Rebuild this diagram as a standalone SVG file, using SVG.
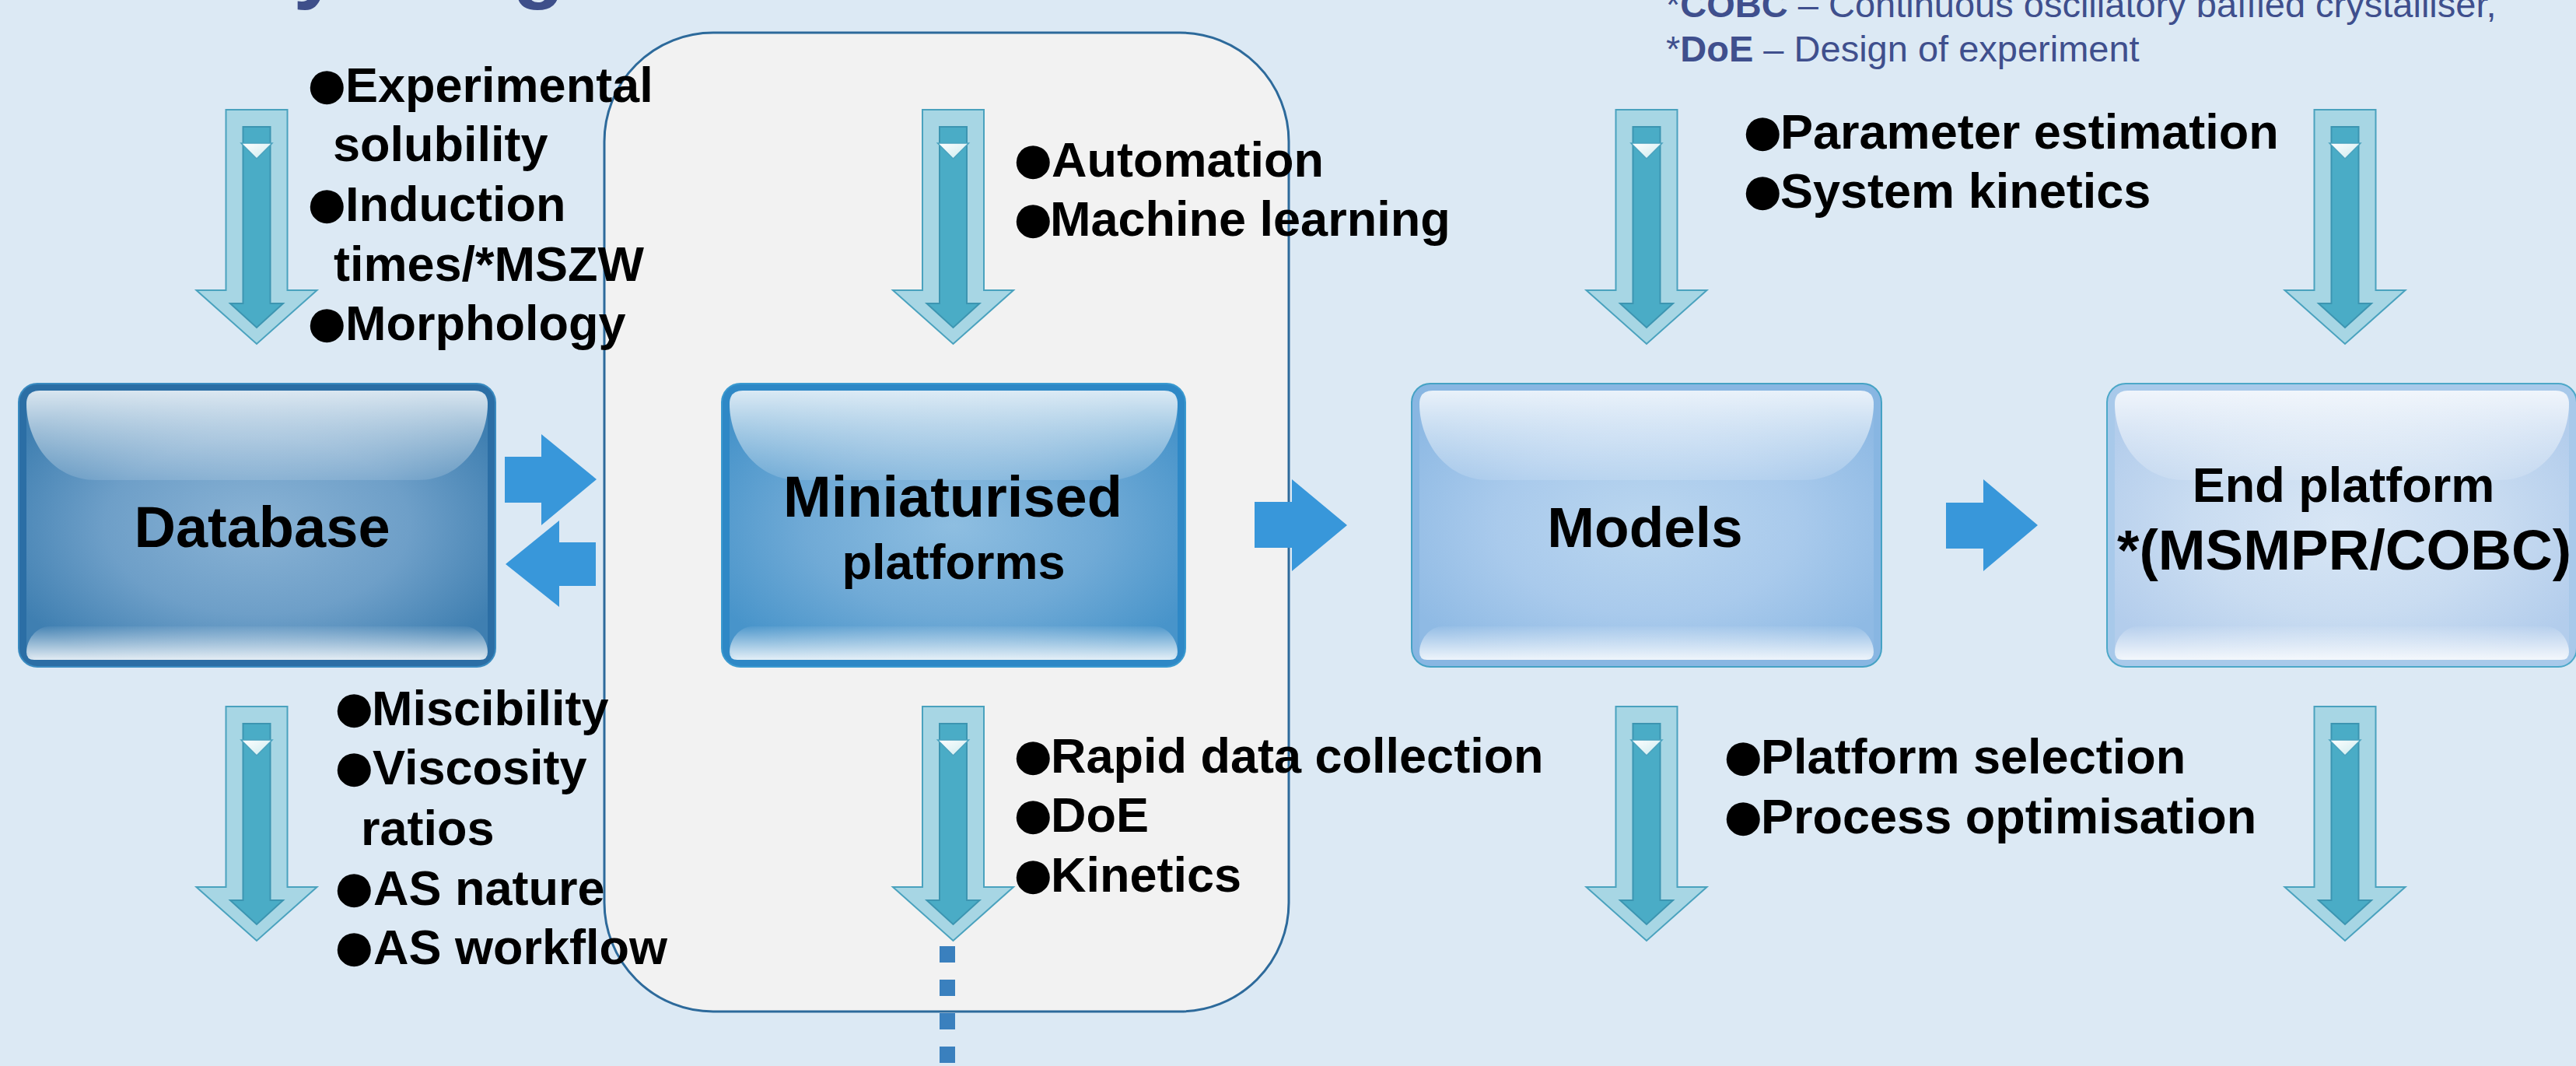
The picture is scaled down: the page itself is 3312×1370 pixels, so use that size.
<svg xmlns="http://www.w3.org/2000/svg" xmlns:xlink="http://www.w3.org/1999/xlink" width="3312" height="1370" viewBox="0 0 3312 1370">
<defs>
<style>
.lbl{font-family:"Liberation Sans",Arial,sans-serif;font-weight:bold;font-size:63px;fill:#000}
.b{font-size:100px}
.ttl{font-family:"Liberation Sans",Arial,sans-serif;font-weight:bold;fill:#000;text-anchor:middle}
.leg{font-family:"Liberation Sans",Arial,sans-serif;font-size:47px;fill:#3F4F8D}
.blk{fill:#3897DA}
</style>
<linearGradient id="glossTop" x1="0" y1="0" x2="0" y2="1">
<stop offset="0" stop-color="#fff" stop-opacity="0.8"/>
<stop offset="1" stop-color="#fff" stop-opacity="0.12"/>
</linearGradient>
<linearGradient id="glossBot" x1="0" y1="0" x2="0" y2="1">
<stop offset="0" stop-color="#fff" stop-opacity="0.05"/>
<stop offset="1" stop-color="#fff" stop-opacity="0.85"/>
</linearGradient>
<radialGradient id="fDb" cx="0.5" cy="0.5" r="0.6">
<stop offset="0" stop-color="#8AB3D5"/>
<stop offset="0.55" stop-color="#6E9FC8"/>
<stop offset="1" stop-color="#3F7FB1"/>
</radialGradient>
<radialGradient id="fMini" cx="0.5" cy="0.5" r="0.6">
<stop offset="0" stop-color="#8EBEE1"/>
<stop offset="0.55" stop-color="#70AAD6"/>
<stop offset="1" stop-color="#4894CA"/>
</radialGradient>
<radialGradient id="fMod" cx="0.5" cy="0.5" r="0.6">
<stop offset="0" stop-color="#BAD6EF"/>
<stop offset="0.55" stop-color="#A9CAEC"/>
<stop offset="1" stop-color="#8FBAE4"/>
</radialGradient>
<radialGradient id="fEnd" cx="0.5" cy="0.5" r="0.6">
<stop offset="0" stop-color="#D8E6F5"/>
<stop offset="0.55" stop-color="#C9DCF1"/>
<stop offset="1" stop-color="#B3CDEC"/>
</radialGradient>
<linearGradient id="wtri" x1="0" y1="0" x2="1" y2="1">
<stop offset="0" stop-color="#FFFFFF"/>
<stop offset="1" stop-color="#CBEAEE"/>
</linearGradient>
<g id="darrow">
<polygon points="-39.5,0 39.5,0 39.5,232 77.5,232 0,301 -77.5,232 -39.5,232" fill="#A7D6E4" stroke="#4AA2BE" stroke-width="2"/>
<polygon points="-17.5,22 17.5,22 17.5,249 34,249 0,280 -34,249 -17.5,249" fill="#4AACC6" stroke="#3C95B1" stroke-width="2"/>
<polygon points="-20,43 20,43 0,63" fill="url(#wtri)" stroke="#4AA2BE" stroke-width="1.5"/>
</g>
</defs>

<rect width="3312" height="1370" fill="#DCE9F4"/>

<g id="title-fragment" font-family="Liberation Sans, Arial, sans-serif" font-weight="bold" font-size="110" fill="#3E4F8A">
<text x="377" y="-10">y</text>
<text x="659" y="-10">g</text>
</g>

<g id="legend" class="leg">
<text x="2142" y="22">*<tspan font-weight="bold">COBC</tspan> – Continuous oscillatory baffled crystalliser,</text>
<text x="2142" y="79">*<tspan font-weight="bold">DoE</tspan> – Design of experiment</text>
</g>

<g id="container">
<rect x="777" y="42" width="880" height="1258" rx="140" ry="140" fill="#F2F2F2" stroke="#2D6A9B" stroke-width="3"/>
</g>

<g id="flow-arrows">
<use href="#darrow" x="330" y="141"/>
<use href="#darrow" x="1225.5" y="141"/>
<use href="#darrow" x="2117" y="141"/>
<use href="#darrow" x="3015" y="141"/>
<use href="#darrow" x="330" y="908"/>
<use href="#darrow" x="1225.5" y="908"/>
<use href="#darrow" x="2117" y="908"/>
<use href="#darrow" x="3015" y="908"/>
</g>

<g id="connectors">
<polygon class="blk" points="649,587 696,587 696,558 767,616 696,675 696,646 649,646"/>
<polygon class="blk" points="766,697 719,697 719,669 650,725 719,780 719,753 766,753"/>
<polygon class="blk" points="1613,645 1661,645 1661,616 1732,675 1661,734 1661,704 1613,704"/>
<polygon class="blk" points="2502,646 2550,646 2550,616 2620,675 2550,734 2550,705 2502,705"/>
<line x1="1218" y1="1216" x2="1218" y2="1370" stroke="#3A80BE" stroke-width="20" stroke-dasharray="21 22"/>
</g>

<g id="node-database" transform="translate(24,493)">
<rect x="0" y="0" width="613" height="364" rx="24" fill="#2B6EA5" stroke="#3A8BC0" stroke-width="2"/>
<rect x="10" y="9" width="593" height="346" rx="18" fill="url(#fDb)"/>
<path d="M10,26 Q10,9 27,9 H586 Q603,9 603,26 C603,70 573,124 513,124 H100 C40,124 10,70 10,26 Z" fill="url(#glossTop)"/>
<path d="M10,345 C10,330 22,312 40,312 H573 C591,312 603,330 603,345 Q603,355 593,355 H20 Q10,355 10,345 Z" fill="url(#glossBot)"/>
<text class="ttl" x="313" y="210" font-size="74">Database</text>
</g>

<g id="node-miniaturised" transform="translate(928,493)">
<rect x="0" y="0" width="596" height="364" rx="24" fill="#2E88C6" stroke="#3A9AD0" stroke-width="2"/>
<rect x="10" y="9" width="576" height="346" rx="18" fill="url(#fMini)"/>
<path d="M10,26 Q10,9 27,9 H569 Q586,9 586,26 C586,70 556,124 496,124 H100 C40,124 10,70 10,26 Z" fill="url(#glossTop)"/>
<path d="M10,345 C10,330 22,312 40,312 H556 C574,312 586,330 586,345 Q586,355 576,355 H20 Q10,355 10,345 Z" fill="url(#glossBot)"/>
<text class="ttl" x="297" y="171" font-size="74">Miniaturised</text>
<text class="ttl" x="298" y="251" font-size="63">platforms</text>
</g>

<g id="node-models" transform="translate(1815,493)">
<rect x="0" y="0" width="604" height="364" rx="24" fill="#88B6E2" stroke="#45A2C4" stroke-width="2"/>
<rect x="10" y="9" width="584" height="346" rx="18" fill="url(#fMod)"/>
<path d="M10,26 Q10,9 27,9 H577 Q594,9 594,26 C594,70 564,124 504,124 H100 C40,124 10,70 10,26 Z" fill="url(#glossTop)"/>
<path d="M10,345 C10,330 22,312 40,312 H564 C582,312 594,330 594,345 Q594,355 584,355 H20 Q10,355 10,345 Z" fill="url(#glossBot)"/>
<text class="ttl" x="300" y="210" font-size="73">Models</text>
</g>

<g id="node-end-platform" transform="translate(2709,493)">
<rect x="0" y="0" width="604" height="364" rx="24" fill="#A8C9EA" stroke="#4CA8C8" stroke-width="2"/>
<rect x="10" y="9" width="584" height="346" rx="18" fill="url(#fEnd)"/>
<path d="M10,26 Q10,9 27,9 H577 Q594,9 594,26 C594,70 564,124 504,124 H100 C40,124 10,70 10,26 Z" fill="url(#glossTop)"/>
<path d="M10,345 C10,330 22,312 40,312 H564 C582,312 594,330 594,345 Q594,355 584,355 H20 Q10,355 10,345 Z" fill="url(#glossBot)"/>
<text class="ttl" x="304" y="152" font-size="63">End platform</text>
<text class="ttl" x="305" y="239" font-size="73">*(MSMPR/COBC)</text>
</g>

<g id="labels-database-in" class="lbl">
<text y="131"><tspan class="b" x="390" dy="10">●</tspan><tspan x="444" y="131">Experimental</tspan></text>
<text x="428" y="207">solubility</text>
<text y="284"><tspan class="b" x="390" dy="10">●</tspan><tspan x="444" y="284">Induction</tspan></text>
<text x="429" y="361">times/*MSZW</text>
<text y="437"><tspan class="b" x="390" dy="10">●</tspan><tspan x="444" y="437">Morphology</tspan></text>
</g>

<g id="labels-database-out" class="lbl">
<text y="932"><tspan class="b" x="425" dy="10">●</tspan><tspan x="478" y="932">Miscibility</tspan></text>
<text y="1008"><tspan class="b" x="425" dy="10">●</tspan><tspan x="479" y="1008">Viscosity</tspan></text>
<text x="464" y="1086">ratios</text>
<text y="1163"><tspan class="b" x="425" dy="10">●</tspan><tspan x="480" y="1163">AS nature</tspan></text>
<text y="1239"><tspan class="b" x="425" dy="10">●</tspan><tspan x="480" y="1239">AS workflow</tspan></text>
</g>

<g id="labels-mini-in" class="lbl">
<text y="227"><tspan class="b" x="1298" dy="10">●</tspan><tspan x="1352" y="227">Automation</tspan></text>
<text y="303"><tspan class="b" x="1298" dy="10">●</tspan><tspan x="1350" y="303">Machine learning</tspan></text>
</g>

<g id="labels-mini-out" class="lbl">
<text y="993"><tspan class="b" x="1298" dy="10">●</tspan><tspan x="1351" y="993">Rapid data collection</tspan></text>
<text y="1069"><tspan class="b" x="1298" dy="10">●</tspan><tspan x="1351" y="1069">DoE</tspan></text>
<text y="1146"><tspan class="b" x="1298" dy="10">●</tspan><tspan x="1351" y="1146">Kinetics</tspan></text>
</g>

<g id="labels-models-in" class="lbl">
<text y="191"><tspan class="b" x="2236" dy="10">●</tspan><tspan x="2289" y="191">Parameter estimation</tspan></text>
<text y="267"><tspan class="b" x="2236" dy="10">●</tspan><tspan x="2289" y="267">System kinetics</tspan></text>
</g>

<g id="labels-models-out" class="lbl">
<text y="994"><tspan class="b" x="2211" dy="10">●</tspan><tspan x="2264" y="994">Platform selection</tspan></text>
<text y="1071"><tspan class="b" x="2211" dy="10">●</tspan><tspan x="2264" y="1071">Process optimisation</tspan></text>
</g>
</svg>
